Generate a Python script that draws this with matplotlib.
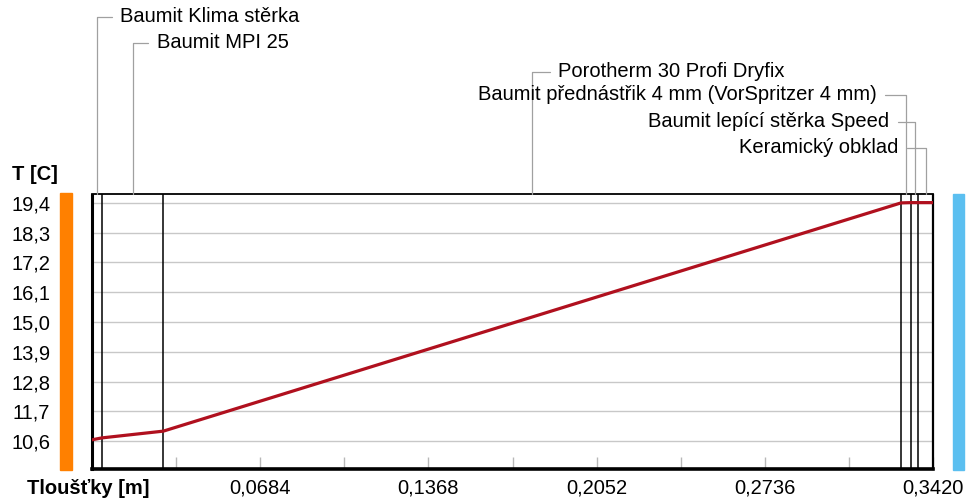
import matplotlib
matplotlib.use("Agg")
import matplotlib.pyplot as plt
from matplotlib.patches import Rectangle
import numpy as np

plt.rcParams['font.family'] = ['Liberation Sans Narrow', 'Liberation Sans', 'DejaVu Sans']

# layer names and thicknesses [m], temperatures at the layer interfaces [C]
layers = ['Baumit Klima stěrka', 'Baumit MPI 25', 'Porotherm 30 Profi Dryfix',
          'Baumit přednástřik 4 mm (VorSpritzer 4 mm)', 'Baumit lepící stěrka Speed',
          'Keramický obklad']
thickness = [0.004, 0.025, 0.300, 0.004, 0.003, 0.006]
temps = [10.65, 10.72, 10.97, 19.40, 19.41, 19.41, 19.41]
yticks = [10.6, 11.7, 12.8, 13.9, 15.0, 16.1, 17.2, 18.3, 19.4]
xticks = [0.0684, 0.1368, 0.2052, 0.2736, 0.3420]

W, H = 969, 501
fs = 14.5

bounds = np.concatenate([[0], np.cumsum(thickness)])
total = bounds[-1]

fig = plt.figure(figsize=(W / 100, H / 100), dpi=100)
ax = fig.add_axes([92 / W, 32.5 / H, 841 / W, 274 / H])

ax.set_xlim(0, total)
ax.set_ylim(9.59, 19.71)

for y in yticks:
    ax.axhline(y, color='#c8c8c8', lw=1, zorder=1)
for b in bounds[1:-1]:
    ax.axvline(b, color='black', lw=1.1, zorder=2)

ax.plot(bounds, temps, color='#b0101e', lw=2.3, zorder=3)

ax.set_yticks(yticks)
ax.set_yticklabels([f"{v:.1f}".replace('.', ',') for v in yticks], fontsize=fs)
ax.tick_params(axis='y', length=0, pad=30)

ax.set_xticks(xticks)
ax.set_xticklabels([f"{v:.4f}".replace('.', ',') for v in xticks], fontsize=fs)
ax.set_xticks(np.arange(1, 10) * 0.0342, minor=True)
ax.tick_params(axis='x', which='both', direction='in', length=9, width=1,
               color='#b8b8b8', pad=7)

ax.spines['left'].set_linewidth(2.2)
ax.spines['bottom'].set_linewidth(2.6)
ax.spines['top'].set_linewidth(1.3)
ax.spines['right'].set_linewidth(1.6)

# leader labels
offsets = [(23, 177.5, 'left'), (24, 151.5, 'left'), (26, 122.5, 'left'),
           (-29, 99.5, 'right'), (-25, 72.5, 'right'), (-27, 46.5, 'right')]
for i, name in enumerate(layers):
    mid = (bounds[i] + bounds[i + 1]) / 2
    dx, dy, ha = offsets[i]
    ax.annotate(name, xy=(mid, 1.0), xycoords=('data', 'axes fraction'),
                xytext=(dx, dy), textcoords='offset pixels', ha=ha, va='center',
                fontsize=fs, annotation_clip=False,
                arrowprops=dict(arrowstyle='-', color='#a0a0a0', lw=0.9,
                                connectionstyle='angle,angleA=0,angleB=90,rad=0',
                                relpos=(0 if ha == 'left' else 1, 0.5),
                                shrinkA=4, shrinkB=0))

# side bars: interior / exterior
fig.patches.append(Rectangle((60 / W, 31 / H), 12 / W, 277 / H, transform=fig.transFigure,
                             color='#ff8000', zorder=0))
fig.patches.append(Rectangle((953 / W, 31 / H), 11 / W, 276 / H, transform=fig.transFigure,
                             color='#5bbff0', zorder=0))

fig.text(35 / W, 1 - 175 / H, 'T [C]', fontsize=fs, fontweight='bold', ha='center', va='center')
fig.text(88 / W, 1 - 488 / H, 'Tloušťky [m]', fontsize=fs, fontweight='bold', ha='center', va='center')

fig.savefig('out.png', dpi=100)
